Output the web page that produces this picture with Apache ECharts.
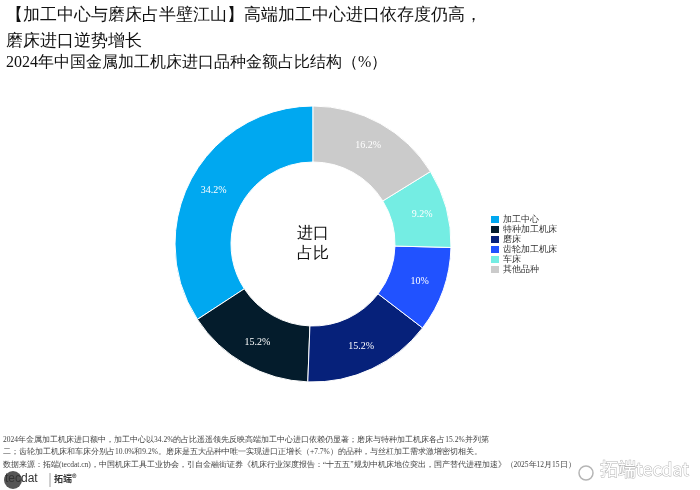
<!DOCTYPE html>
<html><head><meta charset="utf-8">
<script src="https://cdn.jsdelivr.net/npm/echarts@6/dist/echarts.min.js"></script>
<style>html,body{margin:0;padding:0;background:#fff}#c{width:700px;height:490px}</style>
</head><body><div id="c"></div>
<script>
const categories = ['加工中心','特种加工机床','磨床','齿轮加工机床','车床','其他品种'];
const values = [34.2, 15.2, 15.2, 10, 9.2, 16.2];
const colors = ['#00a8f0','#041c2c','#06217a','#2152ff','#74ede3','#cbcbcb'];
const titleText = '【加工中心与磨床占半壁江山】高端加工中心进口依存度仍高，\n磨床进口逆势增长';
const subtitleText = '2024年中国金属加工机床进口品种金额占比结构（%）';
const noteLines = [
  '2024年金属加工机床进口额中，加工中心以34.2%的占比遥遥领先反映高端加工中心进口依赖仍显著；磨床与特种加工机床各占15.2%并列第',
  '二；齿轮加工机床和车床分别占10.0%和9.2%。磨床是五大品种中唯一实现进口正增长（+7.7%）的品种，与丝杠加工需求激增密切相关。',
  '数据来源：拓端(tecdat.cn)，中国机床工具工业协会，引自金融街证券《机床行业深度报告：“十五五”规划中机床地位突出，国产替代进程加速》（2025年12月15日）'
];
const FONT = 'serif';
const chart = echarts.init(document.getElementById('c'));
chart.setOption({
  backgroundColor: '#fff',
  animation: false,
  title: [{
    text: titleText, left: 1, top: -2, padding: [5, 5],
    textStyle: {fontFamily: FONT, fontSize: 16.6, fontWeight: 'normal', color: '#111', lineHeight: 26}
  },{
    text: subtitleText, left: 1, top: 50,
    textStyle: {fontFamily: FONT, fontSize: 16, fontWeight: 'normal', color: '#111'}
  }],
  legend: {
    orient: 'vertical', left: 489, top: 214, padding: 0,
    itemWidth: 10, itemHeight: 9, itemGap: -1,
    icon: 'rect',
    textStyle: {fontFamily: FONT, fontSize: 9, lineHeight: 9, color: '#333', padding: [0,0,0,-2]},
    data: categories
  },
  series: [{
    type: 'pie',
    center: [313, 244],
    radius: [82, 138],
    startAngle: 90,
    clockwise: false,
    itemStyle: {borderColor: '#fff', borderWidth: 1},
    label: {
      position: 'inside', formatter: '{c}%', color: '#fff',
      fontFamily: FONT, fontSize: 10
    },
    labelLine: {show: false},
    emphasis: {disabled: true},
    data: categories.map((n, i) => ({name: n, value: values[i], itemStyle: {color: colors[i]}}))
  }],
  graphic: [
    {type: 'text', style: {text: '进口\n占比', x: 313, y: 244, align: 'center', verticalAlign: 'middle', fontFamily: FONT, fontSize: 16, lineHeight: 20, fill: '#111'}},
    ...noteLines.map((t, i) => ({type: 'text', style: {text: t, x: 3, y: 436 + i * 12.5, fontFamily: FONT, fontSize: 7.5, fill: '#444'}})),
    {type: 'circle', shape: {cx: 13, cy: 480, r: 9}, style: {fill: '#555'}},
    {type: 'text', style: {text: 'tecdat', x: 5, y: 473, fontFamily: 'Liberation Sans', fontSize: 12, fill: '#333'}},
    {type: 'line', shape: {x1: 50, y1: 473, x2: 50, y2: 487}, style: {stroke: '#888', lineWidth: 0.8}},
    {type: 'text', style: {text: '拓端®', x: 54, y: 474, fontFamily: 'Noto Sans CJK SC', fontSize: 9, fontWeight: 'bold', fill: '#333'}},
    {type: 'text', style: {text: '拓端tecdat', x: 600, y: 460, fontFamily: 'Noto Sans CJK SC', fontSize: 18, fill: '#fff', stroke: '#b5b5b5', lineWidth: 1}},
    {type: 'circle', shape: {cx: 586, cy: 473, r: 7}, style: {fill: 'none', stroke: '#b5b5b5', lineWidth: 1.5}}
  ]
});
</script></body></html>
